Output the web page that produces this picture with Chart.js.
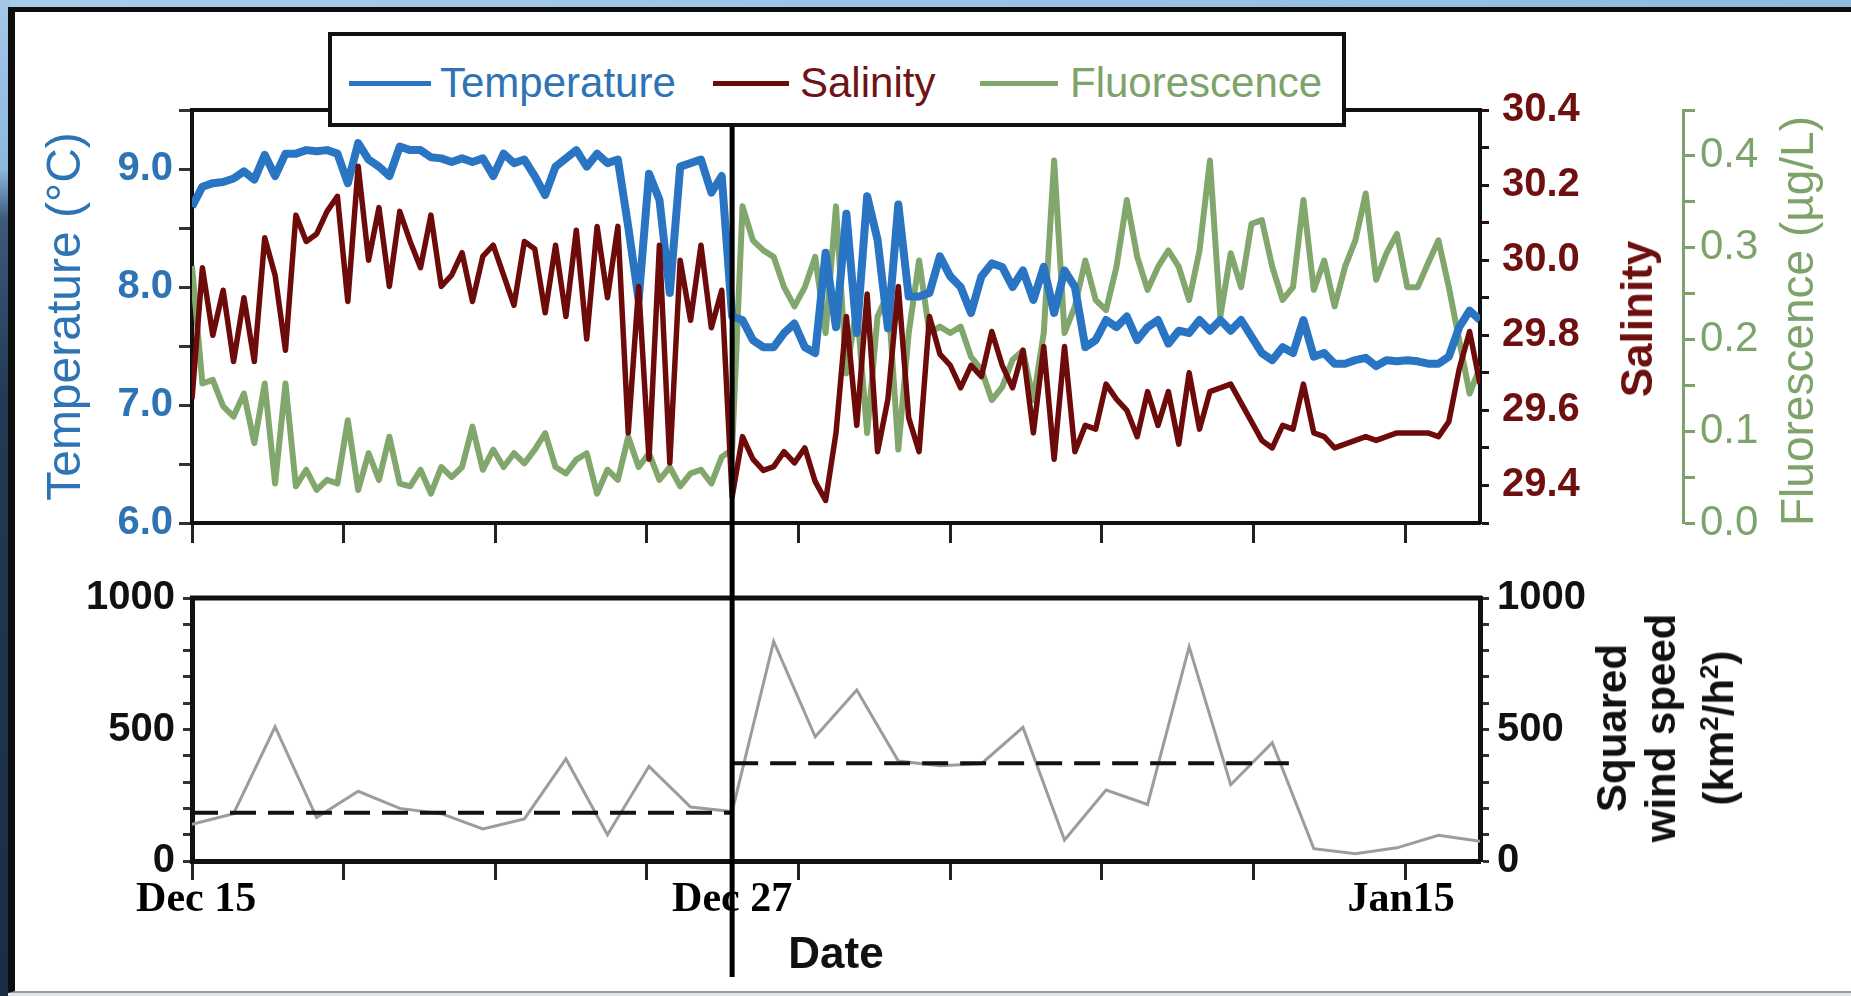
<!DOCTYPE html>
<html>
<head>
<meta charset="utf-8">
<title>Temperature, salinity, fluorescence and wind</title>
<script src="https://cdn.jsdelivr.net/npm/chart.js@4.4.1/dist/chart.umd.min.js"></script>
<style>
    html, body { margin: 0; padding: 0; }
    body {
        width: 1851px; height: 996px; position: relative; overflow: hidden;
        background: linear-gradient(90deg, #a9cceb, #8fbbe1);
        font-family: 'Liberation Sans', Arial, sans-serif;
    }
    #rock {
        position: absolute; left: 0; top: 0; width: 10px; height: 996px;
        background: linear-gradient(#a3c8e8 0%, #8db8de 17%, #3d5a7c 22%, #223a55 40%, #1a2d44 100%);
    }
    #panel {
        position: absolute; left: 8px; top: 7px; right: 0; height: 986px; box-sizing: border-box;
        background: #fff; border-left: 7px solid #0d0d0d; border-top: 5px solid #0d0d0d; border-bottom: 2px solid #9a9a9a;
    }
    #floor { position: absolute; left: 8px; right: 0; top: 993px; height: 3px; background: #e2e7ec; }
    canvas { position: absolute; left: 0; }
    #legend {
        position: absolute; left: 328px; top: 32px; width: 1018px; height: 95px; box-sizing: border-box;
        border: 4px solid #111; background: #fff;
    }
    #legend .sw { position: absolute; top: 45px; height: 5px; }
    #legend .lt { position: absolute; top: 26px; font-size: 42px; line-height: 42px; white-space: nowrap; }
    .rt { position: absolute; transform: translate(-50%, -50%) rotate(-90deg); white-space: nowrap; }
</style>
</head>
<body>
<div id="rock"></div>
<div id="panel"></div>
<div id="floor"></div>

<canvas id="top-chart" width="1851" height="560" style="top:0"></canvas>
<canvas id="wind-chart" width="1851" height="436" style="top:560px"></canvas>

<div id="legend">
    <span class="sw" style="left:17px; width:82px; background:#2a74c4"></span>
    <span class="lt" style="left:108px; color:#2e74b5">Temperature</span>
    <span class="sw" style="left:381px; width:76px; background:#6d0b0b"></span>
    <span class="lt" style="left:468px; color:#6e1414">Salinity</span>
    <span class="sw" style="left:648px; width:78px; background:#82a76d"></span>
    <span class="lt" style="left:738px; color:#7ea36a">Fluorescence</span>
</div>

<div class="rt" style="left:1637px; top:319px; font-size:44px; font-weight:bold; color:#6e1010">Salinity</div>
<div class="rt" style="left:1797px; top:321px; font-size:46px; color:#7ea36a">Fluorescence (µg/L)</div>
<div class="rt" style="left:1665px; top:728px; font-size:42px; line-height:49px; font-weight:bold; text-align:center; color:#111">
    Squared<br>wind speed<br>(km<sup style="font-size:26px">2</sup>/h<sup style="font-size:26px">2</sup>)
</div>

<script>
// readings every quarter day, starting Dec 15
const sampleStep = 0.25;

const temperature = [
    8.68, 8.85, 8.88, 8.89, 8.92, 8.98, 8.91, 9.12, 8.94, 9.13, 9.13, 9.16,
    9.15, 9.16, 9.13, 8.88, 9.22, 9.08, 9.02, 8.94, 9.19, 9.16, 9.16, 9.10,
    9.09, 9.06, 9.09, 9.06, 9.09, 8.94, 9.13, 9.05, 9.08, 8.94, 8.78, 9.02,
    9.09, 9.16, 9.02, 9.13, 9.05, 9.08, 8.51, 7.89, 8.96, 8.74, 7.95, 9.02,
    9.05, 9.08, 8.80, 8.94, 7.75, 7.72, 7.55, 7.49, 7.49, 7.61, 7.69, 7.49,
    7.44, 8.29, 7.66, 8.62, 7.61, 8.77, 8.40, 7.65, 8.70, 7.92, 7.92, 7.95,
    8.26, 8.09, 8.00, 7.78, 8.09, 8.20, 8.17, 8.00, 8.14, 7.89, 8.17, 7.78,
    8.14, 8.00, 7.49, 7.55, 7.72, 7.66, 7.75, 7.55, 7.66, 7.72, 7.52, 7.63,
    7.61, 7.72, 7.63, 7.72, 7.63, 7.72, 7.58, 7.44, 7.38, 7.49, 7.44, 7.72,
    7.41, 7.44, 7.35, 7.35, 7.38, 7.40, 7.33, 7.38, 7.37, 7.38, 7.37, 7.35,
    7.35, 7.41, 7.66, 7.80, 7.72
];

const salinity = [
    29.63, 29.98, 29.80, 29.92, 29.73, 29.90, 29.73, 30.06, 29.96, 29.76, 30.12, 30.05,
    30.07, 30.13, 30.17, 29.89, 30.25, 30.00, 30.14, 29.93, 30.13, 30.05, 29.98, 30.12,
    29.93, 29.96, 30.02, 29.89, 30.01, 30.04, 29.96, 29.88, 30.05, 30.03, 29.86, 30.04,
    29.85, 30.08, 29.79, 30.09, 29.90, 30.09, 29.54, 29.93, 29.47, 30.04, 29.46, 30.00,
    29.84, 30.04, 29.82, 29.92, 29.37, 29.53, 29.47, 29.44, 29.45, 29.49, 29.46, 29.50,
    29.41, 29.36, 29.54, 29.85, 29.56, 29.91, 29.49, 29.63, 29.93, 29.58, 29.49, 29.85,
    29.75, 29.72, 29.66, 29.72, 29.69, 29.81, 29.72, 29.66, 29.76, 29.54, 29.77, 29.47,
    29.77, 29.49, 29.56, 29.55, 29.67, 29.63, 29.60, 29.53, 29.65, 29.56, 29.65, 29.51,
    29.70, 29.55, 29.65, 29.66, 29.67, 29.62, 29.57, 29.52, 29.50, 29.56, 29.55, 29.67,
    29.54, 29.53, 29.50, 29.51, 29.52, 29.53, 29.52, 29.53, 29.54, 29.54, 29.54, 29.54,
    29.53, 29.57, 29.71, 29.81, 29.67
];

const fluorescence = [
    0.280, 0.152, 0.156, 0.127, 0.116, 0.141, 0.087, 0.152, 0.043, 0.152, 0.040, 0.058,
    0.036, 0.047, 0.043, 0.112, 0.036, 0.076, 0.047, 0.094, 0.043, 0.040, 0.058, 0.032,
    0.061, 0.050, 0.061, 0.105, 0.058, 0.080, 0.061, 0.076, 0.065, 0.080, 0.098, 0.061,
    0.054, 0.069, 0.076, 0.032, 0.058, 0.047, 0.094, 0.061, 0.076, 0.047, 0.061, 0.040,
    0.054, 0.058, 0.043, 0.072, 0.080, 0.345, 0.308, 0.297, 0.290, 0.257, 0.236, 0.257,
    0.290, 0.207, 0.345, 0.163, 0.236, 0.098, 0.225, 0.250, 0.080, 0.207, 0.286, 0.207,
    0.214, 0.207, 0.214, 0.181, 0.167, 0.134, 0.148, 0.178, 0.188, 0.134, 0.207, 0.395,
    0.207, 0.236, 0.286, 0.243, 0.232, 0.279, 0.352, 0.290, 0.254, 0.279, 0.297, 0.279,
    0.243, 0.297, 0.395, 0.225, 0.294, 0.257, 0.326, 0.330, 0.279, 0.243, 0.257, 0.352,
    0.254, 0.286, 0.236, 0.279, 0.308, 0.359, 0.265, 0.294, 0.315, 0.257, 0.257, 0.283,
    0.308, 0.257, 0.199, 0.141, 0.170
];

// daily squared wind speed (km2/h2)
const windSq = [140, 180, 510, 165, 265, 200, 180, 122, 160, 388, 100, 360, 205, 188, 835, 472,
                650, 380, 362, 370, 508, 80, 270, 215, 815, 290, 450, 47, 28, 50, 98, 75];
const windMeans = [183, 372];
const meanSpans = [[0, 13], [13, 26.4]];
const splitDay = 13;

const dateTicks = [0, 3.65, 7.3, 10.95, 14.6, 18.25, 21.9, 25.55, 29.2];
const dateLabels = ['Dec 15', 'Dec 27', 'Jan15'];
const dateLabelDays = [0.1, 13, 29.1];
const tempTicks = [6, 6.5, 7, 7.5, 8, 8.5, 9, 9.5];
const salTicks = [29.3, 29.4, 29.5, 29.6, 29.7, 29.8, 29.9, 30.0, 30.1, 30.2, 30.3, 30.4];
const fluoTicks = [0, 0.05, 0.1, 0.15, 0.2, 0.25, 0.3, 0.35, 0.4, 0.45];
const windTicks = [0, 100, 200, 300, 400, 500, 600, 700, 800, 900, 1000];

const sans = "'Liberation Sans', Arial, sans-serif";
const serif = "'Liberation Serif', 'Times New Roman', serif";

const series = vals => vals.map((v, i) => ({ x: i * sampleStep, y: v }));
const setTicks = list => scale => { scale.ticks = list.map(v => ({ value: v })); };
const fixWidth = w => scale => { scale.width = w; };
const fixHeight = h => scale => { scale.height = h; };

// black line marking the split date, runs through both panels
const splitLine = {
    id: 'splitLine',
    afterDraw(chart, args, opts) {
        const x = chart.scales.x.getPixelForValue(splitDay);
        const ctx = chart.ctx;
        ctx.save();
        ctx.strokeStyle = '#000';
        ctx.lineWidth = 5;
        ctx.beginPath();
        ctx.moveTo(x, opts.from);
        ctx.lineTo(x, opts.to);
        ctx.stroke();
        ctx.restore();
    }
};

// top edge of the plot box
const frameTop = {
    id: 'frameTop',
    afterDatasetsDraw(chart, args, opts) {
        const { left, right, top } = chart.chartArea;
        const ctx = chart.ctx;
        ctx.save();
        ctx.strokeStyle = '#111';
        ctx.lineWidth = opts.width;
        ctx.beginPath();
        ctx.moveTo(left - 2, top);
        ctx.lineTo(right + 2, top);
        ctx.stroke();
        ctx.restore();
    }
};

const base = {
    responsive: false,
    devicePixelRatio: 1,
    animation: false,
    events: [],
    elements: { point: { radius: 0 }, line: { tension: 0 } }
};

new Chart(document.getElementById('top-chart'), {
    type: 'line',
    data: {
        datasets: [{
            label: 'Salinity',
            data: series(salinity),
            xAxisID: 'x', yAxisID: 'ySal',
            borderColor: '#6d0b0b', borderWidth: 5.5, borderJoinStyle: 'round',
            order: 0
        }, {
            label: 'Temperature',
            data: series(temperature),
            xAxisID: 'x', yAxisID: 'yTemp',
            borderColor: '#2a74c4', borderWidth: 8, borderJoinStyle: 'round',
            order: 1
        }, {
            label: 'Fluorescence',
            data: series(fluorescence),
            xAxisID: 'x', yAxisID: 'yFluo',
            borderColor: '#82a76d', borderWidth: 6, borderJoinStyle: 'round',
            order: 2
        }]
    },
    options: {
        ...base,
        layout: { padding: { top: 110, left: 0, right: 0, bottom: 0 } },
        plugins: {
            legend: { display: false },
            tooltip: { enabled: false },
            splitLine: { from: 118, to: 560 },
            frameTop: { width: 4 }
        },
        scales: {
            x: {
                type: 'linear', min: 0, max: 31,
                afterBuildTicks: setTicks(dateTicks),
                afterFit: fixHeight(36),
                ticks: { autoSkip: false, callback: () => '' },
                grid: { drawOnChartArea: false, tickLength: 20, tickWidth: 3, tickColor: '#222' },
                border: { color: '#111', width: 4 }
            },
            yTemp: {
                position: 'left', min: 6, max: 9.5,
                afterBuildTicks: setTicks(tempTicks),
                afterFit: fixWidth(192),
                ticks: {
                    autoSkip: false, padding: 6, color: '#2e74b5',
                    font: { family: sans, size: 40, weight: 'bold' },
                    callback: v => Number.isInteger(v) ? v.toFixed(1) : ''
                },
                grid: { drawOnChartArea: false, tickLength: 13, tickWidth: 3, tickColor: '#333' },
                border: { color: '#111', width: 4 },
                title: {
                    display: true, text: 'Temperature (°C)', color: '#2e74b5',
                    font: { family: sans, size: 48, lineHeight: 1 },
                    padding: { top: 43, bottom: 0 }
                }
            },
            ySal: {
                position: 'right', weight: 1, min: 29.3, max: 30.4,
                afterBuildTicks: setTicks(salTicks),
                afterFit: fixWidth(203),
                ticks: {
                    autoSkip: false, padding: 13, color: '#6e1010',
                    font: { family: sans, size: 40, weight: 'bold' },
                    callback: v => Math.round(v * 10) % 2 === 0 ? v.toFixed(1) : ''
                },
                grid: { drawOnChartArea: false, tickLength: 9, tickWidth: 3, tickColor: '#2a1010' },
                border: { color: '#111', width: 4 }
            },
            yFluo: {
                position: 'right', weight: 2, min: 0, max: 0.45,
                afterBuildTicks: setTicks(fluoTicks),
                afterFit: fixWidth(168),
                ticks: {
                    autoSkip: false, padding: 5, color: '#7ea36a',
                    font: { family: sans, size: 42 },
                    callback: v => Math.round(v * 100) % 10 === 0 ? v.toFixed(1) : ''
                },
                grid: { drawOnChartArea: false, tickLength: 12, tickWidth: 3, tickColor: '#7ea36a' },
                border: { color: '#7ea36a', width: 3 }
            }
        }
    },
    plugins: [splitLine, frameTop]
});

new Chart(document.getElementById('wind-chart'), {
    type: 'line',
    data: {
        datasets: [{
            label: 'Mean before',
            data: meanSpans[0].map(d => ({ x: d, y: windMeans[0] })),
            xAxisID: 'x', yAxisID: 'y',
            borderColor: '#111', borderWidth: 4, borderDash: [26, 12],
            order: 0
        }, {
            label: 'Mean after',
            data: meanSpans[1].map(d => ({ x: d, y: windMeans[1] })),
            xAxisID: 'x', yAxisID: 'y',
            borderColor: '#111', borderWidth: 4, borderDash: [26, 12],
            order: 0
        }, {
            label: 'Squared wind speed',
            data: windSq.map((v, i) => ({ x: i, y: v })),
            xAxisID: 'x', yAxisID: 'y',
            borderColor: '#9c9c9c', borderWidth: 3,
            order: 1
        }]
    },
    options: {
        ...base,
        layout: { padding: { top: 38, left: 0, right: 0, bottom: 0 } },
        plugins: {
            legend: { display: false },
            tooltip: { enabled: false },
            splitLine: { from: 0, to: 417 },
            frameTop: { width: 5 }
        },
        scales: {
            x: {
                type: 'linear', min: 0, max: 31,
                afterBuildTicks: setTicks(dateTicks),
                afterFit: fixHeight(18),
                ticks: { autoSkip: false, callback: () => '' },
                grid: { drawOnChartArea: false, tickLength: 19, tickWidth: 3, tickColor: '#222' },
                border: { color: '#111', width: 5 }
            },
            x2: {
                type: 'linear', position: 'bottom', weight: 1, min: 0, max: 31,
                afterBuildTicks: setTicks(dateLabelDays),
                afterFit: fixHeight(117),
                ticks: {
                    autoSkip: false, maxRotation: 0, minRotation: 0, padding: 0, color: '#000',
                    font: { family: serif, size: 42, weight: 'bold', lineHeight: 1 },
                    callback: (v, i) => dateLabels[i]
                },
                grid: { display: false, drawTicks: false },
                border: { display: false },
                title: {
                    display: true, text: 'Date', color: '#111',
                    font: { family: sans, size: 44, weight: 'bold', lineHeight: 1 },
                    padding: { top: 0, bottom: 18 }
                }
            },
            y: {
                position: 'left', min: 0, max: 1000,
                afterBuildTicks: setTicks(windTicks),
                afterFit: fixWidth(192),
                ticks: {
                    autoSkip: false, padding: 8, color: '#111',
                    font: { family: sans, size: 40, weight: 'bold' },
                    callback: v => v % 500 === 0 ? v : ''
                },
                grid: { drawOnChartArea: false, tickLength: 9, tickWidth: 3, tickColor: '#333' },
                border: { color: '#111', width: 5 }
            },
            y1: {
                position: 'right', min: 0, max: 1000,
                afterBuildTicks: setTicks(windTicks),
                afterFit: fixWidth(371),
                ticks: {
                    autoSkip: false, padding: 8, color: '#111',
                    font: { family: sans, size: 40, weight: 'bold' },
                    callback: v => v % 500 === 0 ? v : ''
                },
                grid: { drawOnChartArea: false, tickLength: 9, tickWidth: 3, tickColor: '#333' },
                border: { color: '#111', width: 5 }
            }
        }
    },
    plugins: [splitLine, frameTop]
});
</script>
</body>
</html>
